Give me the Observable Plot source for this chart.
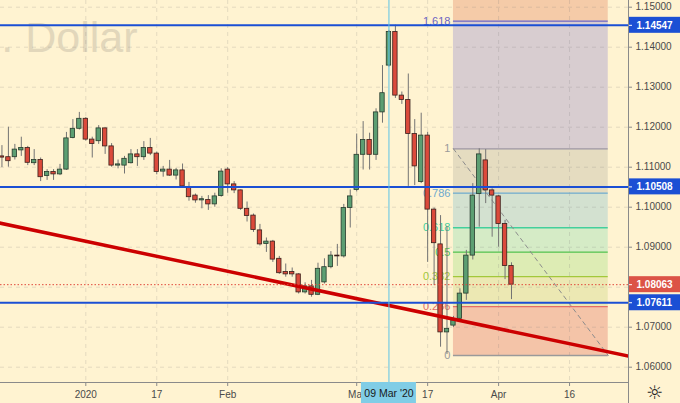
<!DOCTYPE html>
<html><head><meta charset="utf-8">
<script src="https://cdn.jsdelivr.net/npm/d3@7"></script>
<script src="https://cdn.jsdelivr.net/npm/@observablehq/plot@0.6"></script>
<style>
html,body{margin:0;padding:0;background:#FFF3D1;overflow:hidden}
</style></head><body><div id="chart"></div>
<script>
// ---- data ----
const firstDate = "2019-12-12";
const holidays = ["2019-12-25", "2020-01-01"];
const open = [1.1127,1.1125,1.1125,1.1142,1.1148,1.1110,1.1118,1.1078,1.1088,1.1082,1.1094,1.1173,1.1196,
  1.1221,1.1169,1.1165,1.1197,1.1152,1.1104,1.1104,1.1110,1.1132,1.1125,1.1148,1.1134,1.1089,1.1094,1.1079,1.1092,1.1048,1.1029,1.1017,1.1018,1.1007,1.1028,
  1.1094,1.1057,1.1042,1.0996,1.0979,1.0942,1.0908,1.0914,1.0871,1.0838,1.0838,1.0832,1.0787,1.0802,1.0781,1.0812,1.0850,1.0879,1.0877,1.0998,
  1.1043,1.1131,1.1168,1.1131,1.1237,1.1354,1.1438,1.1279,1.1268,1.1183,1.1063,1.1179,1.0994,1.0907,1.0687,1.0704,1.0721,1.0784,1.0879,1.1033,1.1117,1.1042,
  1.1027,1.0958,1.0853];
const high = [1.1154,1.1200,1.1157,1.1175,1.1152,1.1144,1.1123,1.1094,1.1094,1.1107,1.1187,1.1219,1.1237,
  1.1224,1.1175,1.1204,1.1198,1.1159,1.1118,1.1127,1.1144,1.1144,1.1164,1.1172,1.1138,1.1102,1.1117,1.1097,1.1108,1.1062,1.1033,1.1027,1.1029,1.1035,1.1096,
  1.1099,1.1064,1.1043,1.1013,1.0983,1.0957,1.0923,1.0917,1.0877,1.0858,1.0848,1.0834,1.0811,1.0817,1.0860,1.0871,1.0889,1.0907,1.1007,1.1043,
  1.1183,1.1214,1.1185,1.1246,1.1354,1.1442,1.1455,1.1288,1.1333,1.1219,1.1235,1.1187,1.0998,1.0979,1.0952,1.0727,1.0796,1.0892,1.1059,1.1146,1.1144,1.1046,
  1.1029,1.0967,1.0861];
const low = [1.1099,1.1100,1.1118,1.1127,1.1104,1.1104,1.1064,1.1067,1.1067,1.1079,1.1092,1.1171,1.1193,
  1.1165,1.1123,1.1157,1.1132,1.1100,1.1096,1.1083,1.1108,1.1102,1.1117,1.1129,1.1081,1.1075,1.1077,1.1068,1.1048,1.1015,1.1010,1.0996,1.0992,1.1000,1.1025,
  1.1035,1.1034,1.0992,1.0963,1.0937,1.0903,1.0887,1.0862,1.0832,1.0825,1.0825,1.0783,1.0783,1.0775,1.0779,1.0808,1.0846,1.0852,1.0873,1.0948,
  1.1038,1.1093,1.1093,1.1117,1.1210,1.1350,1.1272,1.1257,1.1052,1.1054,1.1059,1.0862,1.0804,1.0650,1.0632,1.0699,1.0717,1.0767,1.0868,1.0950,1.1009,1.0925,
  1.0900,1.0819,1.0769];
const close = [1.1124,1.1115,1.1144,1.1148,1.1111,1.1118,1.1075,1.1088,1.1082,1.1094,1.1172,1.1196,1.1221,
  1.1169,1.1158,1.1197,1.1152,1.1104,1.1107,1.1121,1.1132,1.1125,1.1148,1.1134,1.1088,1.1094,1.1079,1.1092,1.1052,1.1025,1.1017,1.1020,1.1007,1.1027,1.1089,
  1.1057,1.1042,1.0996,1.0978,1.0943,1.0907,1.0914,1.0869,1.0835,1.0832,1.0832,1.0787,1.0802,1.0781,1.0846,1.0850,1.0879,1.0877,1.0998,1.1027,
  1.1131,1.1168,1.1131,1.1237,1.1285,1.1438,1.1279,1.1268,1.1183,1.1102,1.1179,1.0994,1.0910,1.0687,1.0696,1.0717,1.0784,1.0879,1.1029,1.1132,1.1042,1.1029,
  1.0958,1.0853,1.08063];

const fibStart = "2020-03-23", fibEnd = "2020-04-24";
const fibLow = 1.06293, fibHigh = 1.1146;
const fibRatios = [0, 0.236, 0.382, 0.5, 0.618, 0.786, 1, 1.618, 2.618];
const fibLineColors = ["#9a9a9a", "#e56d66", "#a3c83a", "#4fc24f", "#43cf9c", "#6ea9cd", "#9a93a6", "#6c63c2"];
const fibLabelColors = ["#9a9a9a", "#e56d66", "#a3c83a", "#4fc24f", "#43cf9c", "#6ea9cd", "#9a9a9a", "#6c63c2"];
const fibFills = ["#F4C4A8", "#ECE8B3", "#DDECB4", "#D5EBC6", "#D3E1D0", "#E5DCC0", "#D8CDD0", "#F5CBA8"];

const blueLevels = [1.14547, 1.10508, 1.07611];
const lastPrice = 1.08063;
const trendPoints = [{date: "2019-12-11", price: 1.09626}, {date: "2020-04-30", price: 1.06246}];
const crosshairDate = "2020-03-09", crosshairLabel = "09 Mar '20";
const xTickDates = ["2020-01-02", "2020-01-17", "2020-02-03", "2020-03-02", "2020-03-17", "2020-04-01", "2020-04-16"];
const xTickLabels = ["2020", "17", "Feb", "Mar", "17", "Apr", "16"];
const yTicks = [1.06, 1.07, 1.09, 1.10, 1.11, 1.12, 1.13, 1.14, 1.15];
const gridTicks = [1.06, 1.07, 1.08, 1.09, 1.10, 1.11, 1.12, 1.13, 1.14, 1.15];
const watermark = "U.S. Dollar";

// ---- trading-day calendar ----
const fmt = d3.utcFormat("%Y-%m-%d");
const calendar = d3.utcDay.range(new Date(Date.UTC(2019, 11, 11)), new Date(Date.UTC(2020, 4, 2)))
  .filter(d => d.getUTCDay() !== 0 && d.getUTCDay() !== 6)
  .map(fmt)
  .filter(s => !holidays.includes(s));
const pos = s => calendar.indexOf(s);

const start = pos(firstDate);
const candles = open.map((o, k) => ({x: start + k, o, h: high[k], l: low[k], c: close[k]}));
const ups = candles.filter(d => d.c >= d.o);
const downs = candles.filter(d => d.c < d.o);

const anchor = pos("2020-01-02");
const xDomain = [anchor - 13.225, anchor + 84.14];
const yDomain = [1.056175, 1.151675];
const xMax = xDomain[1], yMin = yDomain[0];
const fs = pos(fibStart), fe = pos(fibEnd);
const lvl = r => fibLow + r * (fibHigh - fibLow);
const crossX = pos(crosshairDate);
const xTickPos = xTickDates.map(pos);

const AX = "#8a8a8a", TXT = "#4a4a4a";
const marks = [];

// watermark
marks.push(Plot.text([watermark], {frameAnchor: "top-left", text: d => d, dx: 137, dy: 21, textAnchor: "end",
  fontSize: 43, fill: "#e2d7bb"}));

// fib bands
for (let i = 0; i < fibRatios.length - 1; i++) {
  marks.push(Plot.rect([0], {x1: fs, x2: fe, y1: lvl(fibRatios[i]), y2: lvl(fibRatios[i + 1]), fill: fibFills[i], clip: true}));
}
// grid
marks.push(Plot.gridY({ticks: gridTicks, stroke: "#7a7a7a", strokeOpacity: 0.2, strokeDasharray: "4,4"}));
marks.push(Plot.gridX({ticks: xTickPos, stroke: "#7a7a7a", strokeOpacity: 0.2, strokeDasharray: "4,4"}));
// fib lines + labels
for (let i = 0; i < fibRatios.length - 1; i++) {
  marks.push(Plot.ruleY([lvl(fibRatios[i])], {x1: fs, x2: fe, stroke: fibLineColors[i], strokeWidth: 1.3}));
  marks.push(Plot.text([fibRatios[i]], {x: fs, y: lvl(fibRatios[i]), dx: -3, textAnchor: "end",
    text: d => String(d), fill: fibLabelColors[i], fontSize: 11}));
}
// fib diagonal
marks.push(Plot.line([[fs, fibHigh], [fe, fibLow]], {stroke: "#8c8c8c", strokeWidth: 1, strokeDasharray: "4,4"}));

// candles
marks.push(Plot.ruleX(candles, {x: "x", y1: "l", y2: "h", stroke: "#737373", strokeWidth: 1}));
marks.push(Plot.rect(ups, {x1: d => d.x - 0.34, x2: d => d.x + 0.34, y1: "o", y2: "c", fill: "#5c9e72", stroke: "#263a2c", strokeWidth: 0.8}));
marks.push(Plot.rect(downs, {x1: d => d.x - 0.34, x2: d => d.x + 0.34, y1: "o", y2: "c", fill: "#db4a3b", stroke: "#3a1f1b", strokeWidth: 0.8}));

// trend line
marks.push(Plot.line(trendPoints, {x: d => pos(d.date), y: "price", stroke: "#cc0000", strokeWidth: 3.5, clip: true}));
// horizontal levels
marks.push(Plot.ruleY(blueLevels, {stroke: "#1b4fd4", strokeWidth: 2}));
marks.push(Plot.ruleY([lastPrice], {stroke: "#e0483a", strokeWidth: 1, strokeDasharray: "1.5,2"}));
// crosshair
marks.push(Plot.ruleX([crossX], {stroke: "#5cc3e6", strokeWidth: 1}));

// axes lines
marks.push(Plot.ruleY([yMin], {stroke: AX, strokeWidth: 1}));
marks.push(Plot.ruleX([xMax], {stroke: AX, strokeWidth: 1, insetBottom: -21}));
// x ticks and labels
marks.push(Plot.ruleX(xTickPos, {x: d => d, y1: yMin, y2: yMin, insetBottom: -4, stroke: AX}));
marks.push(Plot.text(xTickPos, {x: d => d, y: yMin, dy: 12, text: (d, i) => xTickLabels[i], fontSize: 10, fill: TXT}));
// y ticks and labels
marks.push(Plot.ruleY(yTicks, {x1: xMax, x2: xMax, insetRight: -4, stroke: AX}));
marks.push(Plot.text(yTicks, {x: xMax, y: d => d, dx: 7, textAnchor: "start", text: d => d.toFixed(5), fontSize: 10, fill: TXT}));

// price label boxes
marks.push(Plot.rect(blueLevels, {x1: xMax, x2: xMax, y1: d => d, y2: d => d, insetLeft: 1, insetRight: -52,
  insetTop: -8, insetBottom: -8, fill: "#1b4fd4"}));
marks.push(Plot.rect([lastPrice], {x1: xMax, x2: xMax, y1: d => d, y2: d => d, insetLeft: 1, insetRight: -52,
  insetTop: -8, insetBottom: -8, fill: "#dc5346"}));
marks.push(Plot.ruleY([...blueLevels, lastPrice], {x1: xMax, x2: xMax, insetLeft: 1, insetRight: -4, stroke: "white"}));
marks.push(Plot.text([...blueLevels, lastPrice], {x: xMax, y: d => d, dx: 8, textAnchor: "start", text: d => d.toFixed(5),
  fill: "white", fontWeight: "bold", fontSize: 10}));

// crosshair date label
marks.push(Plot.rect([crossX], {x1: d => d, x2: d => d, y1: yMin, y2: yMin, insetLeft: -27.5, insetRight: -27.5,
  insetBottom: -21, fill: "#80cde6"}));
marks.push(Plot.text([crossX], {x: d => d, y: yMin, dy: 11, text: () => crosshairLabel, fontSize: 10.5, fill: "#1a1a1a"}));

// settings icon
marks.push(Plot.text(["\u263C"], {x: xMax, y: yMin, dx: 26, dy: 10, text: d => d, fontSize: 19, fill: "#222",
  fontFamily: "'DejaVu Sans', sans-serif"}));

const chart = Plot.plot({
  width: 680, height: 403,
  marginTop: 0, marginLeft: 0, marginRight: 52, marginBottom: 21,
  x: {type: "linear", domain: xDomain, axis: null},
  y: {type: "linear", domain: yDomain, axis: null},
  style: {background: "#FFF3D1", fontFamily: "'Liberation Sans', Arial, sans-serif", overflow: "visible"},
  marks
});
document.getElementById("chart").appendChild(chart);
</script>
</body></html>
